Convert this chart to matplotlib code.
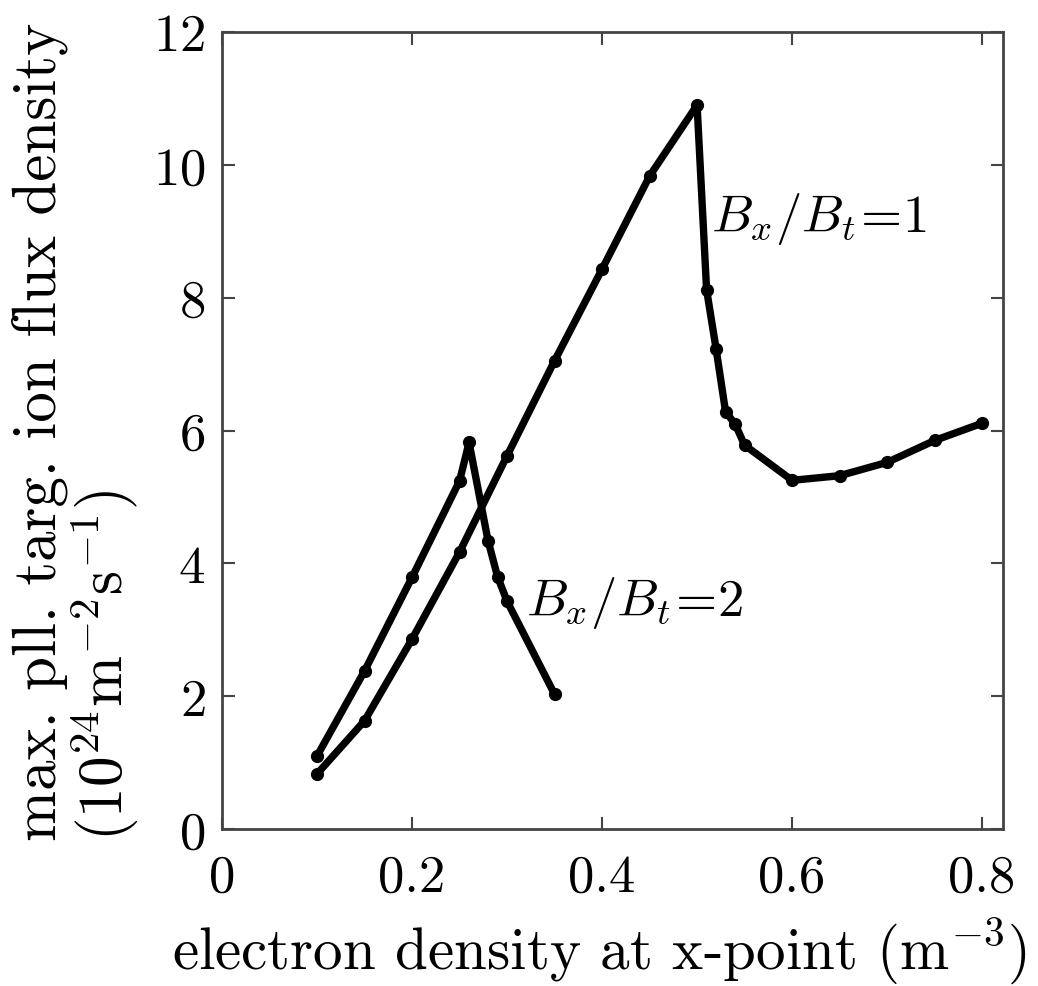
import matplotlib
matplotlib.use("Agg")
import matplotlib.pyplot as plt

# Bx/Bt = 1 scan
ne_1 = [0.10, 0.15, 0.20, 0.25, 0.30, 0.35, 0.40, 0.45, 0.50, 0.51, 0.52, 0.53,
        0.54, 0.55, 0.60, 0.65, 0.70, 0.75, 0.80]
flux_1 = [0.83, 1.63, 2.86, 4.17, 5.62, 7.05, 8.43, 9.83, 10.9, 8.12, 7.23, 6.28,
          6.10, 5.78, 5.25, 5.32, 5.52, 5.85, 6.11]

# Bx/Bt = 2 scan
ne_2 = [0.10, 0.15, 0.20, 0.25, 0.26, 0.28, 0.29, 0.30, 0.35]
flux_2 = [1.10, 2.38, 3.79, 5.24, 5.82, 4.34, 3.80, 3.43, 2.03]

plt.rcParams['font.family'] = 'serif'
plt.rcParams['font.serif'] = ['cmr10']
plt.rcParams['mathtext.fontset'] = 'cm'
plt.rcParams['axes.formatter.use_mathtext'] = True
plt.rcParams['font.size'] = 38

fig = plt.figure(figsize=(10.38, 9.87), dpi=100)
ax = fig.add_axes([0.2139, 0.159, 0.7524, 0.8076])

ax.plot(ne_1, flux_1, color='black', lw=5.3, marker='o', ms=8.5)
ax.plot(ne_2, flux_2, color='black', lw=5.3, marker='o', ms=8.5)

ax.text(0.515, 9.2, r'$B_x/B_t\!=\!1$', fontsize=38, va='center', ha='left')
ax.text(0.32, 3.42, r'$B_x/B_t\!=\!2$', fontsize=38, va='center', ha='left')

ax.set_xlim(0, 0.822)
ax.set_ylim(0, 12)
ax.set_xticks([0, 0.2, 0.4, 0.6, 0.8])
ax.set_xticklabels(['0', '0.2', '0.4', '0.6', '0.8'])
ax.set_yticks([0, 2, 4, 6, 8, 10, 12])

ax.tick_params(direction='in', top=True, right=True, length=9, width=1.5,
               color='#444444', pad=12, labelsize=38)
ax.tick_params(axis='x', pad=18)
for s in ax.spines.values():
    s.set_linewidth(2)
    s.set_color('#444444')

ax.set_xlabel(r'electron density at x-point (m$^{-3}$)', fontsize=42.5)
ax.xaxis.set_label_coords(0.484, -0.108)
ax.set_ylabel('max. pll. targ. ion flux density\n' + r'($10^{24}$m$^{-2}$s$^{-1}$)',
              fontsize=44, multialignment='left', linespacing=1.0)
ax.yaxis.set_label_coords(-0.104, 0.5)

fig.savefig('out.png', dpi=100)
